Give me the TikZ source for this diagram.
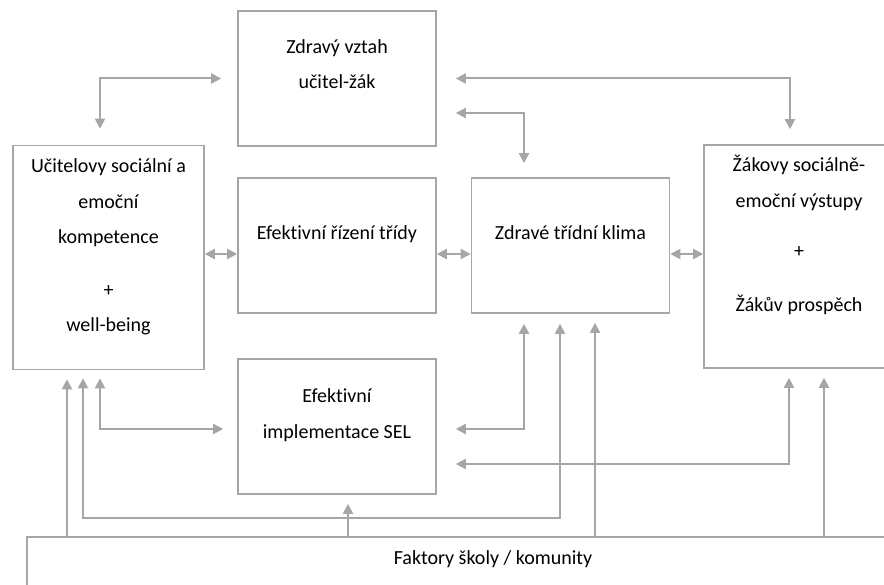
\documentclass[tikz,border=0pt]{standalone}
\usepackage{fontspec}
\setmainfont{Carlito}[Ligatures=NoCommon]
\usetikzlibrary{arrows.meta, positioning}
\definecolor{linegray}{RGB}{166,166,166}

\begin{document}
\begin{tikzpicture}[x=1pt, y=-1pt, on grid,
    box/.style={draw=linegray, line width=1.6pt, rectangle, inner sep=0pt},
    bx/.style={box, minimum width=198pt, minimum height=135pt},
    tall/.style={box, minimum width=191pt, minimum height=224pt},
    txt/.style={align=center, anchor=base, inner sep=0pt, font=\fontsize{20}{35.5}\selectfont},
    conn/.style={draw=linegray, line width=2pt},
    tip/.style={-{Triangle[length=10pt,width=10pt]}},
    dtip/.style={{Triangle[length=10pt,width=10pt]}-{Triangle[length=10pt,width=10pt]}}]
      \useasboundingbox (0,0) rectangle (884,585);
      \clip (0,0) rectangle (884,585);
      % boxes
      \node[bx] (mgmt) at (337,245.5) {};
      \node[bx] (rel) [above=167pt of mgmt] {};
      \node[bx] (sel) [below=181pt of mgmt] {};
      \node[bx] (clim) [right=233.5pt of mgmt] {};
      \node[tall] (teach) at (108.5,257.5) {};
      \node[tall, minimum width=190pt, minimum height=223pt] (stud) at (799,256.5) {};
      \node[box, minimum width=932pt, minimum height=83pt] (factors) at (493,578.5) {};
      % texts (anchored at the last line)
      \node[txt] (relT) at (337,89) {Zdravý vztah\\učitel-žák};
      \node[txt] (teachT) at (108.5,332) {Učitelovy sociální a\\emoční\\kompetence\\[17pt]+\\well-being};
      \node[txt] (mgmtT) at (337,240) {Efektivní řízení třídy};
      \node[txt] (climT) at (570.5,240) {Zdravé třídní klima};
      \node[txt] (studT) at (799,312) {Žákovy sociálně-\\emoční výstupy\\[15pt]+\\[18.5pt]Žákův prospěch};
      \node[txt] (selT) at (337,438) {Efektivní\\implementace SEL};
      \node[txt] (factT) at (493,564) {Faktory školy / komunity};
      % top connectors
      \draw[conn, dtip, shorten <=16pt, shorten >=16pt] ([xshift=-8.5pt]teach.north) |- (rel.west);
      \draw[conn, dtip, shorten <=19pt, shorten >=15pt] (rel.east) -| (stud.north -| 790,0);
      \draw[conn, dtip, shorten <=19pt, shorten >=14pt] ([yshift=-34.5pt]rel.east) -| (clim.north -| 524,0);
      % middle row
      \draw[conn, dtip] (teach.east |- 0,254) -- (mgmt.west |- 0,254);
      \draw[conn, dtip] (mgmt.east |- 0,254) -- (clim.west |- 0,254);
      \draw[conn, dtip] (clim.east |- 0,254) -- (stud.west |- 0,254);
      % lower connectors
      \draw[conn, dtip, shorten <=8pt, shorten >=14pt] ([xshift=-8.5pt]teach.south) |- (sel.west |- 0,429);
      \draw[conn, dtip, shorten <=10pt, shorten >=19pt] (clim.south -| 524,0) |- (sel.east |- 0,429);
      \draw[conn, dtip, shorten <=9pt, shorten >=19pt] (stud.south -| 789,0) |- (sel.east |- 0,464);
      \draw[conn, dtip, shorten <=10pt, shorten >=8pt] (clim.south -| 560,0) -- (560,518) -| (teach.south -| 83,0);
      % school / community factors
      \foreach \x/\n in {67/teach, 348/sel, 595/clim, 824/stud}
        \draw[conn, tip, shorten >=9pt] (factors.north -| \x,0) -- (\n.south -| \x,0);
\end{tikzpicture}
\end{document}
